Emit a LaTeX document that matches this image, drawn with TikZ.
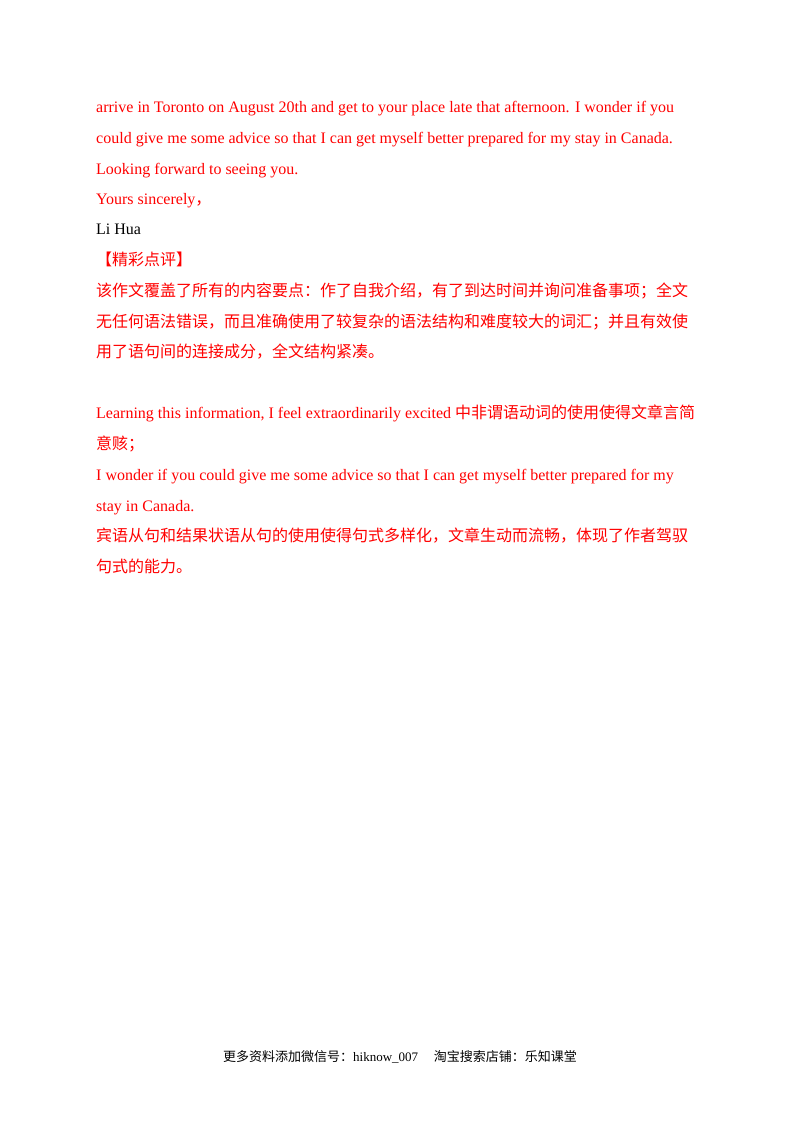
\documentclass[tikz,border=0pt]{standalone}
\usepackage{fontspec}
\setmainfont{Liberation Serif}
\newfontfamily\cjk{Noto Sans CJK SC}
\begin{document}
\begin{tikzpicture}[x=1pt,y=-1pt,
  ln/.style={anchor=base west,inner sep=0pt,font=\fontsize{16}{16}\selectfont},
  red/.style={text=red}]
\useasboundingbox (0,0) rectangle (800,1132);
\node[ln,red] (l1) at (96,112) {arrive in Toronto on August 20th and get to your place late that afternoon. I wonder if you};
\node[ln,red] (l2) at (96,143) {could give me some advice so that I can get myself better prepared for my stay in Canada.};
\node[ln,red] (l3) at (96,174) {Looking forward to seeing you.};
\node[ln,red] (l4) at (96,204) {Yours sincerely{\cjk ，}};
\node[ln] (l5) at (96,234) {Li Hua};
\node[ln,red] (l6) at (96,265) {\cjk 【精彩点评】};
\node[ln,red] (l7) at (96,296) {\cjk 该作文覆盖了所有的内容要点：作了自我介绍，有了到达时间并询问准备事项；全文};
\node[ln,red] (l8) at (96,327) {\cjk 无任何语法错误，而且准确使用了较复杂的语法结构和难度较大的词汇；并且有效使};
\node[ln,red] (l9) at (96,357) {\cjk 用了语句间的连接成分，全文结构紧凑。};
\node[ln,red] (l10) at (96,418) {Learning this information, I feel extraordinarily excited {\cjk 中非谓语动词的使用使得文章言简}};
\node[ln,red] (l11) at (96,449) {\cjk 意赅；};
\node[ln,red] (l12) at (96,480) {I wonder if you could give me some advice so that I can get myself better prepared for my};
\node[ln,red] (l13) at (96,511) {stay in Canada.};
\node[ln,red] (l14) at (96,541) {\cjk 宾语从句和结果状语从句的使用使得句式多样化，文章生动而流畅，体现了作者驾驭};
\node[ln,red] (l15) at (96,572) {\cjk 句式的能力。};
\node[anchor=base,inner sep=0pt,font=\fontsize{13}{13}\selectfont] (ft) at (400,1061) {{\cjk 更多资料添加微信号：}hiknow\_007\hspace{1.2em}{\cjk 淘宝搜索店铺：乐知课堂}};
\end{tikzpicture}
\end{document}
